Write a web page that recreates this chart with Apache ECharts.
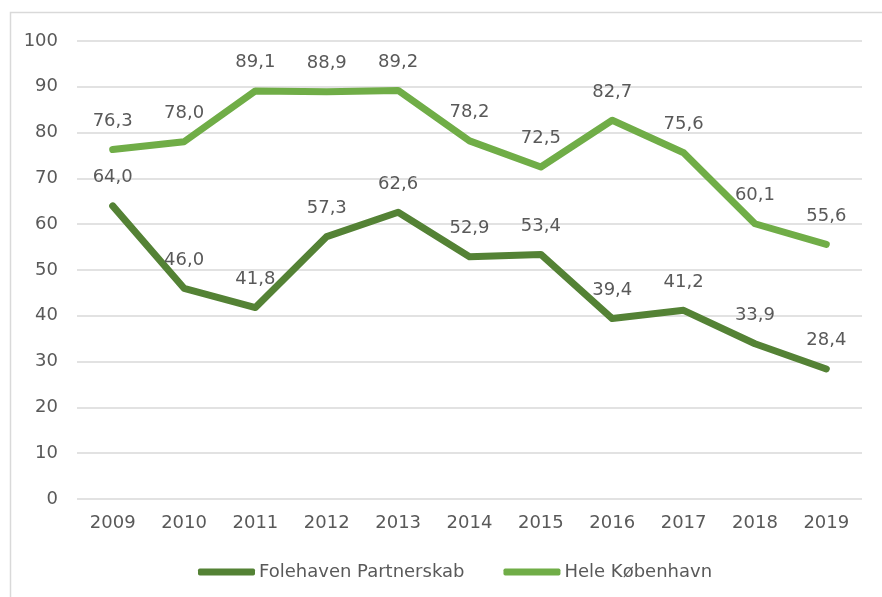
<!DOCTYPE html>
<html><head><meta charset="utf-8">
<script src="https://cdn.jsdelivr.net/npm/echarts@6/dist/echarts.min.js"></script>
<style>html,body{margin:0;padding:0;background:#fff}#c{width:882px;height:597px}</style>
</head><body><div id="c"></div>
<script>
const categories = ['2009','2010','2011','2012','2013','2014','2015','2016','2017','2018','2019'];
const folehaven = [64.0, 46.0, 41.8, 57.3, 62.6, 52.9, 53.4, 39.4, 41.2, 33.9, 28.4];
const hele = [76.3, 78.0, 89.1, 88.9, 89.2, 78.2, 72.5, 82.7, 75.6, 60.1, 55.6];
const seriesNames = ['Folehaven Partnerskab', 'Hele København'];
const colors = ['#548235', '#70AD47'];
const FONT = 'DejaVu Sans';
const TXT = '#595959';
const chart = echarts.init(document.getElementById('c'));
const lbl = {
  show: true, position: 'top', distance: 19,
  color: TXT, fontSize: 18, fontFamily: FONT,
  formatter: p => p.value.toFixed(1).replace('.', ',')
};
chart.setOption({
  animation: false,
  graphic: [{type:'rect', shape:{x:10.5,y:12.5,width:900,height:700}, style:{fill:'none', stroke:'#d9d9d9', lineWidth:1.5}, silent:true}],
  grid: {left: 77, right: 20, top: 41, bottom: 98},
  legend: {
    top: 558, left: 193, itemWidth: 57, itemHeight: 7, itemGap: 39,
    textStyle: {color: TXT, fontSize: 18, fontFamily: FONT, padding: [0,0,0,-1]},
    data: seriesNames.map((n, i) => ({name: n, icon: 'roundRect', itemStyle: {color: colors[i], opacity: 1}}))
  },
  xAxis: {
    type: 'category', data: categories, boundaryGap: true,
    axisLine: {show: false}, axisTick: {show: false},
    axisLabel: {color: TXT, fontSize: 18, fontFamily: FONT, margin: 15}
  },
  yAxis: {
    type: 'value', min: 0, max: 100, interval: 10,
    axisLine: {show: false}, axisTick: {show: false},
    splitLine: {lineStyle: {color: '#d9d9d9', width: 1.5}},
    axisLabel: {color: TXT, fontSize: 18, fontFamily: FONT, margin: 19}
  },
  series: [
    {name: seriesNames[0], type: 'line', data: folehaven, symbol: 'circle', symbolSize: 0.5, showSymbol: true,
     itemStyle: {color: colors[0]}, color: colors[0],
     lineStyle: {width: 7, color: colors[0], cap: 'round', join: 'round'}, label: lbl},
    {name: seriesNames[1], type: 'line', data: hele, symbol: 'circle', symbolSize: 0.5, showSymbol: true,
     itemStyle: {color: colors[1]}, color: colors[1],
     lineStyle: {width: 7, color: colors[1], cap: 'round', join: 'round'}, label: lbl}
  ]
});
</script></body></html>
